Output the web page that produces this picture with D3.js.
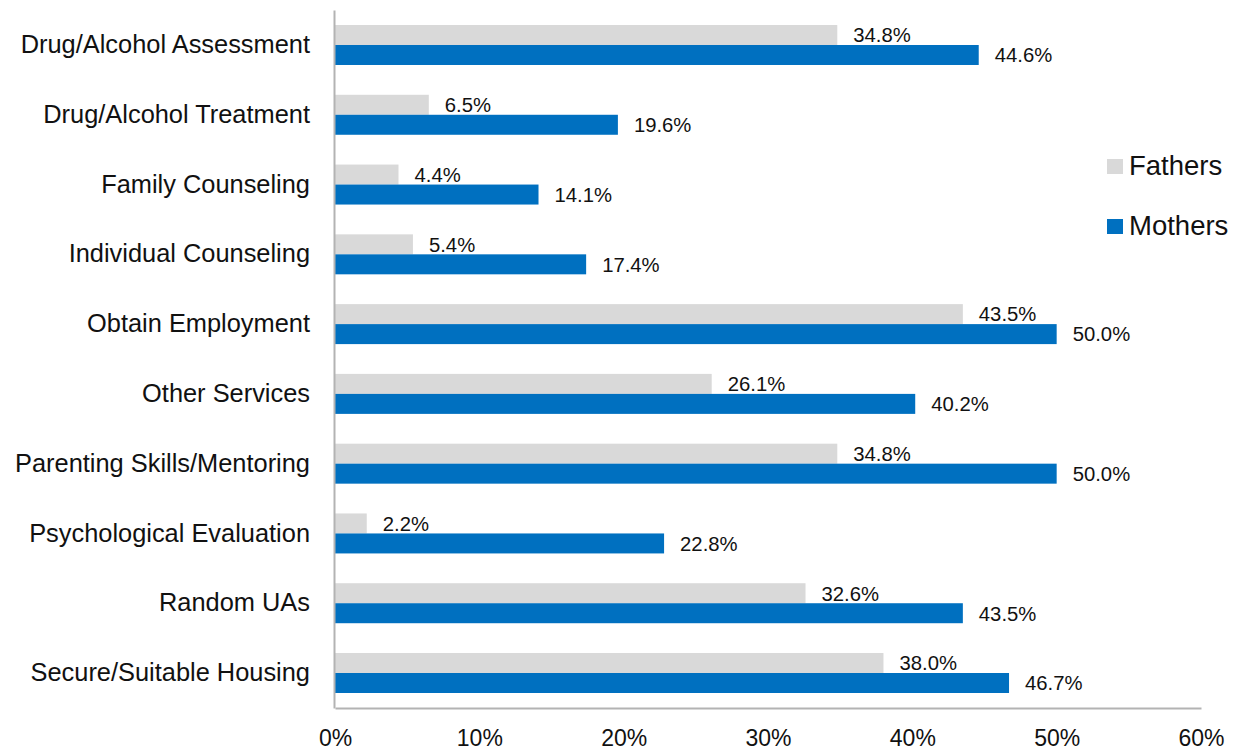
<!DOCTYPE html>
<html>
<head>
<meta charset="utf-8">
<script src="https://cdn.jsdelivr.net/npm/d3@7"></script>
<style>
  body { margin: 0; background: #fff; }
  text { font-family: "Liberation Sans", Arial, sans-serif; fill: #111; }
</style>
</head>
<body>
<svg width="1239" height="753"></svg>
<script>
/**Data**/
var categories = ["Drug/Alcohol Assessment", "Drug/Alcohol Treatment", "Family Counseling",
  "Individual Counseling", "Obtain Employment", "Other Services", "Parenting Skills/Mentoring",
  "Psychological Evaluation", "Random UAs", "Secure/Suitable Housing"];
var seriesNames = ["Fathers", "Mothers"];
var fathers = [34.8, 6.5, 4.4, 5.4, 43.5, 26.1, 34.8, 2.2, 32.6, 38.0];
var mothers = [44.6, 19.6, 14.1, 17.4, 50.0, 40.2, 50.0, 22.8, 43.5, 46.7];
var xTicks = [0, 10, 20, 30, 40, 50, 60];

var colors = { Fathers: "#d9d9d9", Mothers: "#0070c0" };

var svg = d3.select("svg");
var plotLeft = 335, plotRight = 1201, plotTop = 10, plotBottom = 708;

var x = d3.scaleLinear().domain([0, 60]).range([plotLeft, plotRight]);
var y = d3.scaleBand().domain(categories).range([plotTop, plotBottom])
  .paddingInner(0.427).paddingOuter(0.215);
var ySub = d3.scaleBand().domain(seriesNames).range([0, y.bandwidth()]);

var rows = categories.map(function(c, i) {
  return { cat: c, values: [
    { name: "Fathers", v: fathers[i] },
    { name: "Mothers", v: mothers[i] }
  ] };
});

//bars
var groups = svg.append("g").selectAll("g")
  .data(rows).enter().append("g")
  .attr("transform", function(d) { return "translate(0," + y(d.cat) + ")"; });

groups.selectAll("rect")
  .data(function(d) { return d.values; })
  .enter().append("rect")
  .attr("x", x(0))
  .attr("y", function(d) { return ySub(d.name); })
  .attr("width", function(d) { return x(d.v) - x(0); })
  .attr("height", ySub.bandwidth())
  .attr("fill", function(d) { return colors[d.name]; });

groups.selectAll("text")
  .data(function(d) { return d.values; })
  .enter().append("text")
  .attr("x", function(d) { return x(d.v) + 16; })
  .attr("y", function(d) { return ySub(d.name) + ySub.bandwidth() / 2; })
  .attr("dy", "0.36em")
  .attr("font-size", 20.3)
  .text(function(d) { return d.v.toFixed(1) + "%"; });

//axes
var xAxis = svg.append("g")
  .attr("transform", "translate(0," + plotBottom + ")")
  .call(d3.axisBottom(x).tickValues(xTicks).tickSize(0).tickPadding(22)
    .tickFormat(function(d) { return d + "%"; }));
xAxis.select(".domain").attr("stroke", "#b3b3b3").attr("stroke-width", 2);
xAxis.selectAll("text").attr("font-size", 23).attr("font-family", "Liberation Sans, Arial, sans-serif").attr("fill", "#111");

var yAxis = svg.append("g")
  .attr("transform", "translate(" + (plotLeft - 1) + ",0)")
  .call(d3.axisLeft(y).tickSize(0).tickPadding(24));
yAxis.select(".domain").attr("stroke", "#b3b3b3").attr("stroke-width", 2);
yAxis.selectAll("text").attr("font-size", 25.4).attr("font-family", "Liberation Sans, Arial, sans-serif").attr("fill", "#111");

//legend
var legend = svg.append("g").selectAll("g")
  .data(seriesNames).enter().append("g")
  .attr("transform", function(d, i) { return "translate(1107," + (159 + i * 60) + ")"; });
legend.append("rect").attr("width", 16).attr("height", 15)
  .attr("fill", function(d) { return colors[d]; });
legend.append("text").attr("x", 22).attr("y", 16)
  .attr("font-size", 27.5).text(function(d) { return d; });
</script>
</body>
</html>
